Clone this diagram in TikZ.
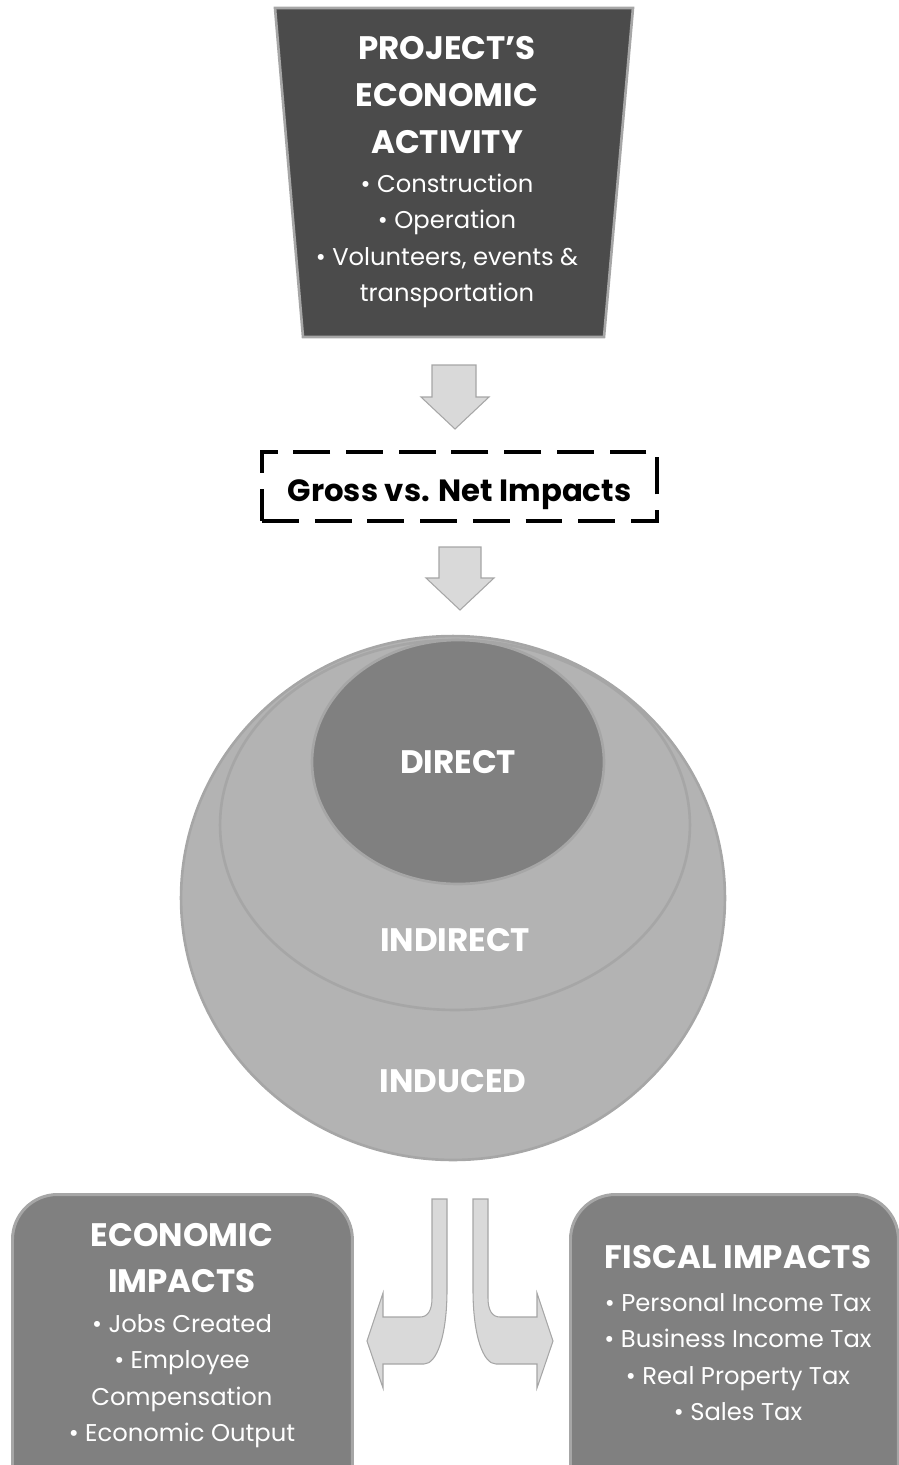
\documentclass[tikz,border=0pt]{standalone}
\usepackage{fontspec}
\setmainfont{Poppins}
\usepackage{xcolor}
\usepackage{tikz}
\usetikzlibrary{shapes.geometric, calc}

\definecolor{darkbox}{HTML}{4B4B4B}
\definecolor{midgray}{HTML}{808080}
\definecolor{ringgray}{HTML}{B3B3B3}
\definecolor{edgegray}{HTML}{A6A6A6}
\definecolor{arrowfill}{HTML}{D9D9D9}

\begin{document}
\begin{tikzpicture}[
    x=0.02cm, y=-0.02cm,
    headline/.style={text=white, font=\fontsize{18.5}{26.6}\selectfont\bfseries, align=center},
    bullets/.style={text=white, font=\fontsize{13.8}{20.8}\selectfont, align=center},
    ring/.style={draw=edgegray, ellipse, line width=1.5pt, inner sep=0pt},
    ringlabel/.style={text=white, font=\fontsize{18.5}{21}\selectfont\bfseries},
    blockarrow/.style={draw=edgegray, fill=arrowfill, line width=0.6pt},
    panel/.style={draw=edgegray, fill=midgray, line width=1.7pt, rounded corners=0.9cm, inner sep=0pt}
]
    \useasboundingbox (0,0) rectangle (899,1465);

    % project box (trapezium, wide side up)
    \draw[draw=edgegray, fill=darkbox, line width=1.5pt] (275,8) -- (633,8) -- (604,337) -- (303,337) -- cycle;
    \node[headline] (proj) at (447,95) {PROJECT’S\\ECONOMIC\\ACTIVITY};
    \node[bullets] (projlist) at (447,241) {\textbullet{} Construction\\\textbullet{} Operation\\\textbullet{} Volunteers, events \&\\transportation};

    % gross vs net
    \node[draw=black, line width=2.3pt, dash pattern=on 21pt off 9pt, minimum width=7.9cm, minimum height=1.38cm,
          text height=20pt, text depth=3.5pt,
          font=\fontsize{17.5}{19}\selectfont\bfseries] (gross) at (459.5,486.5) {Gross vs. Net Impacts};

    \draw[blockarrow] (432,365) -- (476,365) -- (476,397) -- (489,397) -- (455,429) -- (421,397) -- (432,397) -- cycle;
    \draw[blockarrow] (439,547) -- (481,547) -- (481,578) -- (494,578) -- (460,610) -- (426,578) -- (439,578) -- cycle;

    % impact rings
    \node[ring, fill=ringgray, minimum width=10.88cm, minimum height=10.48cm] (induced) at (453,898) {};
    \node[ring, fill=ringgray, minimum width=9.4cm, minimum height=7.4cm] (indirect) at (455,825) {};
    \node[ring, fill=midgray, minimum width=5.84cm, minimum height=4.88cm] (direct) at (458,762) {};
    \node[ringlabel] (directlbl) at (direct.center) {DIRECT};
    \node[ringlabel] (indirectlbl) at (455,940) {INDIRECT};
    \node[ringlabel] (inducedlbl) at (453,1081) {INDUCED};

    % split arrows
    \draw[blockarrow] (432,1199) -- (447,1199) -- (447,1290) .. controls (447,1335) and (437,1364) .. (424,1364)
        -- (383,1364) -- (383,1388) -- (367,1341) -- (383,1293) -- (383,1317) -- (420,1317)
        .. controls (428,1317) and (432,1310) .. (432,1298) -- cycle;
    \draw[blockarrow] (488,1199) -- (473,1199) -- (473,1290) .. controls (473,1335) and (483,1364) .. (496,1364)
        -- (537,1364) -- (537,1388) -- (553,1341) -- (537,1293) -- (537,1317) -- (500,1317)
        .. controls (492,1317) and (488,1310) .. (488,1298) -- cycle;

    % result panels
    \node[panel, anchor=north west, minimum width=6.8cm, minimum height=6.4cm] (econ) at (11,1193) {};
    \node[headline] (econtitle) at (182,1258) {ECONOMIC\\IMPACTS};
    \node[bullets] (econlist) at (182,1381) {\textbullet{} Jobs Created\\\textbullet{} Employee\\Compensation\\\textbullet{} Economic Output};

    \node[panel, anchor=north west, minimum width=6.56cm, minimum height=6.4cm] (fiscal) at (569,1193) {};
    \node[headline] (fiscaltitle) at (738,1257) {FISCAL IMPACTS};
    \node[bullets] (fiscallist) at (738,1357) {\textbullet{} Personal Income Tax\\\textbullet{} Business Income Tax\\\textbullet{} Real Property Tax\\\textbullet{} Sales Tax};
\end{tikzpicture}
\end{document}
